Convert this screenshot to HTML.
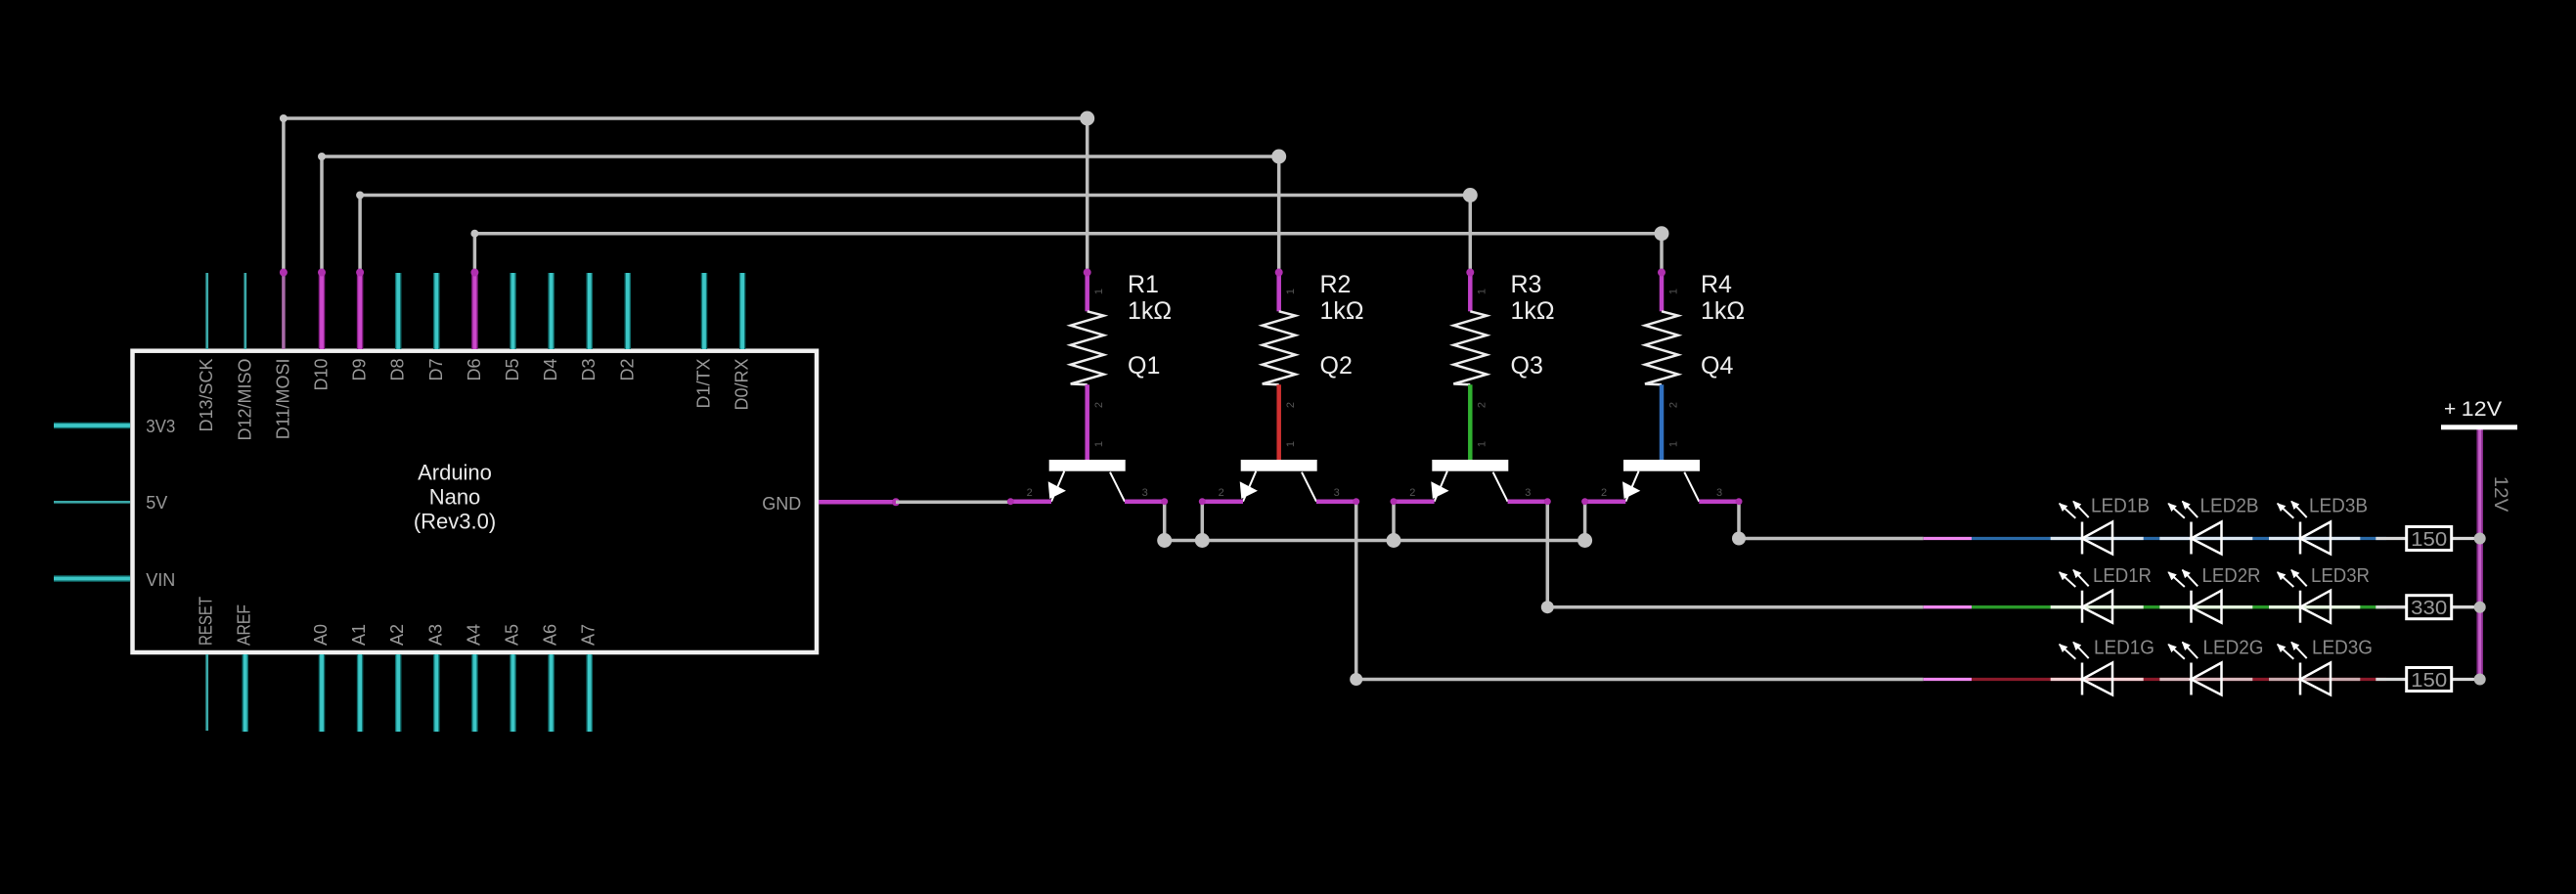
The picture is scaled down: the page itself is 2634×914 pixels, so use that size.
<!DOCTYPE html>
<html><head><meta charset="utf-8"><style>
html,body{margin:0;padding:0;background:#000;}
svg{display:block;}
text{font-family:"Liberation Sans",sans-serif;}
</style></head><body>
<svg width="2634" height="914" viewBox="0 0 2634 914" xmlns="http://www.w3.org/2000/svg">
<defs>
<marker id="ah" markerWidth="9" markerHeight="8" refX="8" refY="4" orient="auto" markerUnits="userSpaceOnUse">
<path d="M0,0 L9,4 L0,8 z" fill="#fff"/>
</marker>
</defs>
<rect width="2634" height="914" fill="#000"/>

<!-- ===== Top signal wires ===== -->
<g fill="none" stroke="#bdbdbd" stroke-width="3.5">
<path d="M289.9,278 V121 H1111.7 V278"/>
<path d="M329,278 V160 H1307.7 V278"/>
<path d="M368.1,278 V199.5 H1503.3 V278"/>
<path d="M485.4,278 V238.7 H1699 V278"/>
</g>
<g fill="#c4c4c4">
<circle cx="289.9" cy="121" r="4"/><circle cx="329" cy="160" r="4"/><circle cx="368.1" cy="199.5" r="4"/><circle cx="485.4" cy="238.7" r="4"/>
<circle cx="1111.7" cy="121" r="7.5"/><circle cx="1307.7" cy="160" r="7.5"/><circle cx="1503.3" cy="199.5" r="7.5"/><circle cx="1699" cy="238.7" r="7.5"/>
</g>

<!-- ===== Arduino ===== -->
<rect x="135.5" y="358.7" width="699.5" height="308.3" fill="none" stroke="#f0f0f0" stroke-width="4.5"/>
<!-- top pins -->
<g stroke-linecap="butt">
<line x1="211.7" y1="279" x2="211.7" y2="357" stroke="#3aa8a8" stroke-width="2.7"/>
<line x1="250.8" y1="279" x2="250.8" y2="357" stroke="#3aa8a8" stroke-width="2.7"/>
<line x1="289.9" y1="279" x2="289.9" y2="357" stroke="#a86aa8" stroke-width="3.5"/>
</g>
<g stroke="#0f6a6a" stroke-width="6.5">
<line x1="407.2" y1="279" x2="407.2" y2="357"/><line x1="446.3" y1="279" x2="446.3" y2="357"/>
<line x1="524.5" y1="279" x2="524.5" y2="357"/><line x1="563.6" y1="279" x2="563.6" y2="357"/>
<line x1="602.7" y1="279" x2="602.7" y2="357"/><line x1="641.8" y1="279" x2="641.8" y2="357"/>
<line x1="720" y1="279" x2="720" y2="357"/><line x1="759.1" y1="279" x2="759.1" y2="357"/>
<line x1="250.7" y1="669" x2="250.7" y2="748"/><line x1="329" y1="669" x2="329" y2="748"/>
<line x1="368.1" y1="669" x2="368.1" y2="748"/><line x1="407.2" y1="669" x2="407.2" y2="748"/>
<line x1="446.3" y1="669" x2="446.3" y2="748"/><line x1="485.4" y1="669" x2="485.4" y2="748"/>
<line x1="524.5" y1="669" x2="524.5" y2="748"/><line x1="563.6" y1="669" x2="563.6" y2="748"/>
<line x1="602.7" y1="669" x2="602.7" y2="748"/>
<line x1="55" y1="435" x2="133" y2="435"/><line x1="55" y1="591.5" x2="133" y2="591.5"/>
</g>
<g stroke="#3cc6c6" stroke-width="3.8">
<line x1="407.2" y1="279" x2="407.2" y2="357"/><line x1="446.3" y1="279" x2="446.3" y2="357"/>
<line x1="524.5" y1="279" x2="524.5" y2="357"/><line x1="563.6" y1="279" x2="563.6" y2="357"/>
<line x1="602.7" y1="279" x2="602.7" y2="357"/><line x1="641.8" y1="279" x2="641.8" y2="357"/>
<line x1="720" y1="279" x2="720" y2="357"/><line x1="759.1" y1="279" x2="759.1" y2="357"/>
<line x1="250.7" y1="669" x2="250.7" y2="748"/><line x1="329" y1="669" x2="329" y2="748"/>
<line x1="368.1" y1="669" x2="368.1" y2="748"/><line x1="407.2" y1="669" x2="407.2" y2="748"/>
<line x1="446.3" y1="669" x2="446.3" y2="748"/><line x1="485.4" y1="669" x2="485.4" y2="748"/>
<line x1="524.5" y1="669" x2="524.5" y2="748"/><line x1="563.6" y1="669" x2="563.6" y2="748"/>
<line x1="602.7" y1="669" x2="602.7" y2="748"/>
<line x1="55" y1="435" x2="133" y2="435"/><line x1="55" y1="591.5" x2="133" y2="591.5"/>
</g>
<line x1="211.7" y1="669" x2="211.7" y2="747" stroke="#3aa8a8" stroke-width="2.7"/>
<line x1="55" y1="513.3" x2="133" y2="513.3" stroke="#3aa8a8" stroke-width="2.7"/>
<!-- magenta pins -->
<g stroke="#8a208a" stroke-width="6.5">
<line x1="329" y1="279" x2="329" y2="357"/><line x1="368.1" y1="279" x2="368.1" y2="357"/><line x1="485.4" y1="279" x2="485.4" y2="357"/>
</g>
<g stroke="#cc48cc" stroke-width="3.8">
<line x1="329" y1="279" x2="329" y2="357"/><line x1="368.1" y1="279" x2="368.1" y2="357"/><line x1="485.4" y1="279" x2="485.4" y2="357"/>
</g>
<g fill="#b030b0">
<circle cx="289.9" cy="278.5" r="4"/><circle cx="329" cy="278.5" r="4"/><circle cx="368.1" cy="278.5" r="4"/><circle cx="485.4" cy="278.5" r="4"/>
</g>
<!-- GND pin -->
<line x1="837" y1="513.3" x2="916" y2="513.3" stroke="#c040c8" stroke-width="4.5"/>
<circle cx="916" cy="513.3" r="4" fill="#b030b0"/>

<!-- Arduino labels -->
<g fill="#999" font-size="18">
<text transform="translate(217.2,366.5) rotate(-90)" text-anchor="end">D13/SCK</text>
<text transform="translate(256.3,366.5) rotate(-90)" text-anchor="end">D12/MISO</text>
<text transform="translate(295.4,366.5) rotate(-90)" text-anchor="end">D11/MOSI</text>
<text transform="translate(334.5,366.5) rotate(-90)" text-anchor="end">D10</text>
<text transform="translate(373.6,366.5) rotate(-90)" text-anchor="end">D9</text>
<text transform="translate(412.7,366.5) rotate(-90)" text-anchor="end">D8</text>
<text transform="translate(451.8,366.5) rotate(-90)" text-anchor="end">D7</text>
<text transform="translate(490.9,366.5) rotate(-90)" text-anchor="end">D6</text>
<text transform="translate(530,366.5) rotate(-90)" text-anchor="end">D5</text>
<text transform="translate(569.1,366.5) rotate(-90)" text-anchor="end">D4</text>
<text transform="translate(608.2,366.5) rotate(-90)" text-anchor="end">D3</text>
<text transform="translate(647.3,366.5) rotate(-90)" text-anchor="end">D2</text>
<text transform="translate(725.5,366.5) rotate(-90)" text-anchor="end">D1/TX</text>
<text transform="translate(764.6,366.5) rotate(-90)" text-anchor="end">D0/RX</text>
<text transform="translate(216.7,660) rotate(-90)" textLength="50" lengthAdjust="spacingAndGlyphs">RESET</text>
<text transform="translate(255.7,660) rotate(-90)" textLength="42" lengthAdjust="spacingAndGlyphs">AREF</text>
<text transform="translate(334,660) rotate(-90)">A0</text>
<text transform="translate(373.1,660) rotate(-90)">A1</text>
<text transform="translate(412.2,660) rotate(-90)">A2</text>
<text transform="translate(451.3,660) rotate(-90)">A3</text>
<text transform="translate(490.4,660) rotate(-90)">A4</text>
<text transform="translate(529.5,660) rotate(-90)">A5</text>
<text transform="translate(568.6,660) rotate(-90)">A6</text>
<text transform="translate(607.7,660) rotate(-90)">A7</text>
<text x="149.3" y="442" textLength="30" lengthAdjust="spacingAndGlyphs">3V3</text>
<text x="149.3" y="520">5V</text>
<text x="149.3" y="599">VIN</text>
<text x="819.3" y="521" text-anchor="end">GND</text>
</g>
<g fill="#eaeaea" font-size="22" text-anchor="middle">
<text x="465" y="490.7">Arduino</text>
<text x="465" y="515.7">Nano</text>
<text x="465" y="540.5">(Rev3.0)</text>
</g>

<!-- ===== lower gray wiring ===== -->
<g fill="none" stroke="#bdbdbd" stroke-width="3.5">
<line x1="916" y1="513.3" x2="1033.3" y2="513.3"/>
<path d="M1190.7,512.7 V552.5 H1620.6 V512.7"/>
<line x1="1229.3" y1="512.7" x2="1229.3" y2="552.5"/>
<line x1="1425" y1="512.7" x2="1425" y2="552.5"/>
<path d="M1386.7,512.7 V694.5 H1966.7"/>
<path d="M1582.3,512.7 V620.7 H1966.7"/>
<path d="M1778,512.7 V550.5 H1966.7"/>
</g>
<g fill="#c4c4c4">
<circle cx="1190.7" cy="552.5" r="7.5"/><circle cx="1229.3" cy="552.5" r="7.5"/>
<circle cx="1425" cy="552.5" r="7.5"/><circle cx="1620.6" cy="552.5" r="7.5"/>
<circle cx="1386.7" cy="694.5" r="6.5"/><circle cx="1582.3" cy="620.7" r="6.5"/><circle cx="1778" cy="550.5" r="7"/>
</g>

<!-- ===== Resistors + transistors ===== -->
<!-- Q1 / R1 cx=1111.7 -->
<g>
<line x1="1111.7" y1="278.3" x2="1111.7" y2="318.3" stroke="#c040c8" stroke-width="4.5"/>
<circle cx="1111.7" cy="278.5" r="4" fill="#b030b0"/>
<polyline points="1111.7,318.3 1128.7,322.7 1094.7,332.7 1128.7,342.7 1094.7,352.7 1128.7,362.7 1094.7,372.7 1128.7,382.7 1094.7,392.5 1111.7,393.3" fill="none" stroke="#eee" stroke-width="2.5"/>
<line x1="1111.7" y1="393.3" x2="1111.7" y2="470" stroke="#c040c8" stroke-width="4.5"/>
<rect x="1072.7" y="470" width="78" height="11.7" fill="#fff"/>
<line x1="1088.3" y1="481.7" x2="1075" y2="512.7" stroke="#fff" stroke-width="2"/>
<polygon points="1071.7,492.3 1090,501.7 1073.3,510" fill="#fff"/>
<line x1="1135" y1="482.7" x2="1150" y2="512.7" stroke="#fff" stroke-width="2"/>
<line x1="1033.3" y1="512.7" x2="1075" y2="512.7" stroke="#c040c8" stroke-width="4.5"/>
<line x1="1150" y1="512.7" x2="1190.7" y2="512.7" stroke="#c040c8" stroke-width="4.5"/>
<circle cx="1033.3" cy="512.7" r="3.5" fill="#b030b0"/><circle cx="1190.7" cy="512.7" r="3.5" fill="#b030b0"/>
</g>
<!-- Q2 / R2 cx=1307.7 -->
<g>
<line x1="1307.7" y1="278.3" x2="1307.7" y2="318.3" stroke="#c040c8" stroke-width="4.5"/>
<circle cx="1307.7" cy="278.5" r="4" fill="#b030b0"/>
<polyline points="1307.7,318.3 1324.7,322.7 1290.7,332.7 1324.7,342.7 1290.7,352.7 1324.7,362.7 1290.7,372.7 1324.7,382.7 1290.7,392.5 1307.7,393.3" fill="none" stroke="#eee" stroke-width="2.5"/>
<line x1="1307.7" y1="393.3" x2="1307.7" y2="470" stroke="#d03030" stroke-width="4.5"/>
<rect x="1268.7" y="470" width="78" height="11.7" fill="#fff"/>
<line x1="1284.3" y1="481.7" x2="1271" y2="512.7" stroke="#fff" stroke-width="2"/>
<polygon points="1267.7,492.3 1286,501.7 1269.3,510" fill="#fff"/>
<line x1="1331" y1="482.7" x2="1346" y2="512.7" stroke="#fff" stroke-width="2"/>
<line x1="1229.3" y1="512.7" x2="1271" y2="512.7" stroke="#c040c8" stroke-width="4.5"/>
<line x1="1346" y1="512.7" x2="1386.7" y2="512.7" stroke="#c040c8" stroke-width="4.5"/>
<circle cx="1229.3" cy="512.7" r="3.5" fill="#b030b0"/><circle cx="1386.7" cy="512.7" r="3.5" fill="#b030b0"/>
</g>
<!-- Q3 / R3 cx=1503.3 -->
<g>
<line x1="1503.3" y1="278.3" x2="1503.3" y2="318.3" stroke="#c040c8" stroke-width="4.5"/>
<circle cx="1503.3" cy="278.5" r="4" fill="#b030b0"/>
<polyline points="1503.3,318.3 1520.3,322.7 1486.3,332.7 1520.3,342.7 1486.3,352.7 1520.3,362.7 1486.3,372.7 1520.3,382.7 1486.3,392.5 1503.3,393.3" fill="none" stroke="#eee" stroke-width="2.5"/>
<line x1="1503.3" y1="393.3" x2="1503.3" y2="470" stroke="#30b030" stroke-width="4.5"/>
<rect x="1464.3" y="470" width="78" height="11.7" fill="#fff"/>
<line x1="1479.9" y1="481.7" x2="1466.6" y2="512.7" stroke="#fff" stroke-width="2"/>
<polygon points="1463.3,492.3 1481.6,501.7 1464.9,510" fill="#fff"/>
<line x1="1526.6" y1="482.7" x2="1541.6" y2="512.7" stroke="#fff" stroke-width="2"/>
<line x1="1425" y1="512.7" x2="1466.6" y2="512.7" stroke="#c040c8" stroke-width="4.5"/>
<line x1="1541.6" y1="512.7" x2="1582.3" y2="512.7" stroke="#c040c8" stroke-width="4.5"/>
<circle cx="1425" cy="512.7" r="3.5" fill="#b030b0"/><circle cx="1582.3" cy="512.7" r="3.5" fill="#b030b0"/>
</g>
<!-- Q4 / R4 cx=1699 -->
<g>
<line x1="1699" y1="278.3" x2="1699" y2="318.3" stroke="#c040c8" stroke-width="4.5"/>
<circle cx="1699" cy="278.5" r="4" fill="#b030b0"/>
<polyline points="1699,318.3 1716,322.7 1682,332.7 1716,342.7 1682,352.7 1716,362.7 1682,372.7 1716,382.7 1682,392.5 1699,393.3" fill="none" stroke="#eee" stroke-width="2.5"/>
<line x1="1699" y1="393.3" x2="1699" y2="470" stroke="#3070c0" stroke-width="4.5"/>
<rect x="1660" y="470" width="78" height="11.7" fill="#fff"/>
<line x1="1675.6" y1="481.7" x2="1662.3" y2="512.7" stroke="#fff" stroke-width="2"/>
<polygon points="1659,492.3 1677.3,501.7 1660.6,510" fill="#fff"/>
<line x1="1722.3" y1="482.7" x2="1737.3" y2="512.7" stroke="#fff" stroke-width="2"/>
<line x1="1620.6" y1="512.7" x2="1662.3" y2="512.7" stroke="#c040c8" stroke-width="4.5"/>
<line x1="1737.3" y1="512.7" x2="1778" y2="512.7" stroke="#c040c8" stroke-width="4.5"/>
<circle cx="1620.6" cy="512.7" r="3.5" fill="#b030b0"/><circle cx="1778" cy="512.7" r="3.5" fill="#b030b0"/>
</g>

<!-- tiny pin numbers -->
<g fill="#555" font-size="11" text-anchor="middle">
<text x="1052.7" y="507">2</text><text x="1170.7" y="507">3</text>
<text x="1248.7" y="507">2</text><text x="1366.7" y="507">3</text>
<text x="1444.3" y="507">2</text><text x="1562.3" y="507">3</text>
<text x="1640" y="507">2</text><text x="1758" y="507">3</text>
<text transform="translate(1127,298) rotate(-90)">1</text><text transform="translate(1127,414) rotate(-90)">2</text><text transform="translate(1127,454) rotate(-90)">1</text>
<text transform="translate(1323,298) rotate(-90)">1</text><text transform="translate(1323,414) rotate(-90)">2</text><text transform="translate(1323,454) rotate(-90)">1</text>
<text transform="translate(1518.6,298) rotate(-90)">1</text><text transform="translate(1518.6,414) rotate(-90)">2</text><text transform="translate(1518.6,454) rotate(-90)">1</text>
<text transform="translate(1714.3,298) rotate(-90)">1</text><text transform="translate(1714.3,414) rotate(-90)">2</text><text transform="translate(1714.3,454) rotate(-90)">1</text>
</g>

<!-- R/Q labels -->
<g fill="#eee" font-size="25">
<text x="1153" y="299">R1</text><text x="1153" y="326">1kΩ</text><text x="1153" y="382">Q1</text>
<text x="1349.5" y="299">R2</text><text x="1349.5" y="326">1kΩ</text><text x="1349.5" y="382">Q2</text>
<text x="1544.5" y="299">R3</text><text x="1544.5" y="326">1kΩ</text><text x="1544.5" y="382">Q3</text>
<text x="1739" y="299">R4</text><text x="1739" y="326">1kΩ</text><text x="1739" y="382">Q4</text>
</g>

<!-- ===== LED rows ===== -->
<!-- B row y=550.5 -->
<g stroke-width="3.3">
<line x1="1966.7" y1="550.5" x2="2016" y2="550.5" stroke="#f088f0"/>
<line x1="2016" y1="550.5" x2="2440" y2="550.5" stroke="#2a6aa8"/>
<line x1="2096.7" y1="550.5" x2="2191.7" y2="550.5" stroke="#dce6f0"/>
<line x1="2208.3" y1="550.5" x2="2303.3" y2="550.5" stroke="#dce6f0"/>
<line x1="2320" y1="550.5" x2="2413.3" y2="550.5" stroke="#dce6f0"/>
<line x1="2429.3" y1="550.5" x2="2460.7" y2="550.5" stroke="#d8d8d8"/>
<line x1="2506.7" y1="550.5" x2="2535.7" y2="550.5" stroke="#d8d8d8"/>
</g>
<!-- R row y=620.7 -->
<g stroke-width="3.3">
<line x1="1966.7" y1="620.7" x2="2016" y2="620.7" stroke="#f088f0"/>
<line x1="2016" y1="620.7" x2="2440" y2="620.7" stroke="#2a9a2a"/>
<line x1="2096.7" y1="620.7" x2="2191.7" y2="620.7" stroke="#e2f0dc"/>
<line x1="2208.3" y1="620.7" x2="2303.3" y2="620.7" stroke="#e2f0dc"/>
<line x1="2320" y1="620.7" x2="2413.3" y2="620.7" stroke="#e2f0dc"/>
<line x1="2429.3" y1="620.7" x2="2460.7" y2="620.7" stroke="#d8d8d8"/>
<line x1="2506.7" y1="620.7" x2="2535.7" y2="620.7" stroke="#d8d8d8"/>
</g>
<!-- G row y=694.5 -->
<g stroke-width="3.3">
<line x1="1966.7" y1="694.5" x2="2016" y2="694.5" stroke="#f088f0"/>
<line x1="2016" y1="694.5" x2="2440" y2="694.5" stroke="#8a1a2a"/>
<line x1="2096.7" y1="694.5" x2="2191.7" y2="694.5" stroke="#f2cfd2"/>
<line x1="2208.3" y1="694.5" x2="2303.3" y2="694.5" stroke="#d8b8bc"/>
<line x1="2320" y1="694.5" x2="2413.3" y2="694.5" stroke="#c8a8ac"/>
<line x1="2429.3" y1="694.5" x2="2460.7" y2="694.5" stroke="#d8d8d8"/>
<line x1="2506.7" y1="694.5" x2="2535.7" y2="694.5" stroke="#d8d8d8"/>
</g>

<!-- LED symbols -->
<g fill="none" stroke="#fff" stroke-width="2.5">
<!-- B -->
<line x1="2129" y1="533.5" x2="2129" y2="566.5"/><polygon points="2129,550.5 2160,533.5 2160,566.5"/>
<line x1="2240.5" y1="533.5" x2="2240.5" y2="566.5"/><polygon points="2240.5,550.5 2271.5,533.5 2271.5,566.5"/>
<line x1="2352" y1="533.5" x2="2352" y2="566.5"/><polygon points="2352,550.5 2383,533.5 2383,566.5"/>
<!-- R -->
<line x1="2129" y1="603.7" x2="2129" y2="636.7"/><polygon points="2129,620.7 2160,603.7 2160,636.7"/>
<line x1="2240.5" y1="603.7" x2="2240.5" y2="636.7"/><polygon points="2240.5,620.7 2271.5,603.7 2271.5,636.7"/>
<line x1="2352" y1="603.7" x2="2352" y2="636.7"/><polygon points="2352,620.7 2383,603.7 2383,636.7"/>
<!-- G -->
<line x1="2129" y1="677.5" x2="2129" y2="710.5"/><polygon points="2129,694.5 2160,677.5 2160,710.5"/>
<line x1="2240.5" y1="677.5" x2="2240.5" y2="710.5"/><polygon points="2240.5,694.5 2271.5,677.5 2271.5,710.5"/>
<line x1="2352" y1="677.5" x2="2352" y2="710.5"/><polygon points="2352,694.5 2383,677.5 2383,710.5"/>
</g>
<!-- LED arrows -->
<g stroke="#fff" stroke-width="2" marker-end="url(#ah)">
<line x1="2122.3" y1="529.8" x2="2105.7" y2="514.8"/><line x1="2135.7" y1="529.1" x2="2120" y2="512.5"/>
<line x1="2233.8" y1="529.8" x2="2217.2" y2="514.8"/><line x1="2247.2" y1="529.1" x2="2231.5" y2="512.5"/>
<line x1="2345.3" y1="529.8" x2="2328.7" y2="514.8"/><line x1="2358.7" y1="529.1" x2="2343" y2="512.5"/>
<line x1="2122.3" y1="600" x2="2105.7" y2="585"/><line x1="2135.7" y1="599.3" x2="2120" y2="582.7"/>
<line x1="2233.8" y1="600" x2="2217.2" y2="585"/><line x1="2247.2" y1="599.3" x2="2231.5" y2="582.7"/>
<line x1="2345.3" y1="600" x2="2328.7" y2="585"/><line x1="2358.7" y1="599.3" x2="2343" y2="582.7"/>
<line x1="2122.3" y1="673.8" x2="2105.7" y2="658.8"/><line x1="2135.7" y1="673.1" x2="2120" y2="656.5"/>
<line x1="2233.8" y1="673.8" x2="2217.2" y2="658.8"/><line x1="2247.2" y1="673.1" x2="2231.5" y2="656.5"/>
<line x1="2345.3" y1="673.8" x2="2328.7" y2="658.8"/><line x1="2358.7" y1="673.1" x2="2343" y2="656.5"/>
</g>
<!-- LED labels -->
<g fill="#8a8a8a" font-size="20">
<text x="2138" y="523.3" textLength="60" lengthAdjust="spacingAndGlyphs">LED1B</text>
<text x="2249.5" y="523.3" textLength="60" lengthAdjust="spacingAndGlyphs">LED2B</text>
<text x="2361" y="523.3" textLength="60" lengthAdjust="spacingAndGlyphs">LED3B</text>
<text x="2140" y="595" textLength="60" lengthAdjust="spacingAndGlyphs">LED1R</text>
<text x="2251.5" y="595" textLength="60" lengthAdjust="spacingAndGlyphs">LED2R</text>
<text x="2363" y="595" textLength="60" lengthAdjust="spacingAndGlyphs">LED3R</text>
<text x="2141" y="668.3" textLength="62" lengthAdjust="spacingAndGlyphs">LED1G</text>
<text x="2252.5" y="668.3" textLength="62" lengthAdjust="spacingAndGlyphs">LED2G</text>
<text x="2364" y="668.3" textLength="62" lengthAdjust="spacingAndGlyphs">LED3G</text>
</g>

<!-- Series resistors -->
<g fill="#000" stroke="#fff" stroke-width="3">
<rect x="2460.7" y="538.5" width="46" height="24"/>
<rect x="2460.7" y="608.7" width="46" height="24"/>
<rect x="2460.7" y="682.5" width="46" height="24"/>
</g>
<g fill="#9a9a9a" font-size="20" text-anchor="middle">
<text x="2483.7" y="558" textLength="37" lengthAdjust="spacingAndGlyphs">150</text>
<text x="2483.7" y="628.2" textLength="37" lengthAdjust="spacingAndGlyphs">330</text>
<text x="2483.7" y="702" textLength="37" lengthAdjust="spacingAndGlyphs">150</text>
</g>

<!-- 12V rail -->
<line x1="2535.7" y1="439" x2="2535.7" y2="699" stroke="#8a2e90" stroke-width="6.5"/>
<line x1="2535.7" y1="439" x2="2535.7" y2="699" stroke="#c45ec8" stroke-width="3"/>
<rect x="2496" y="434.3" width="78" height="5" fill="#fff"/>
<g fill="#b8b8b8">
<circle cx="2535.7" cy="550.5" r="6"/><circle cx="2535.7" cy="620.7" r="6"/><circle cx="2535.7" cy="694.5" r="6"/>
</g>
<text x="2499" y="425" fill="#eee" font-size="21">+</text>
<text x="2516.7" y="425" fill="#eee" font-size="21" textLength="41.6" lengthAdjust="spacingAndGlyphs">12V</text>
<text transform="translate(2551,486.7) rotate(90)" fill="#888" font-size="19" textLength="36.6" lengthAdjust="spacingAndGlyphs">12V</text>
</svg>
</body></html>
